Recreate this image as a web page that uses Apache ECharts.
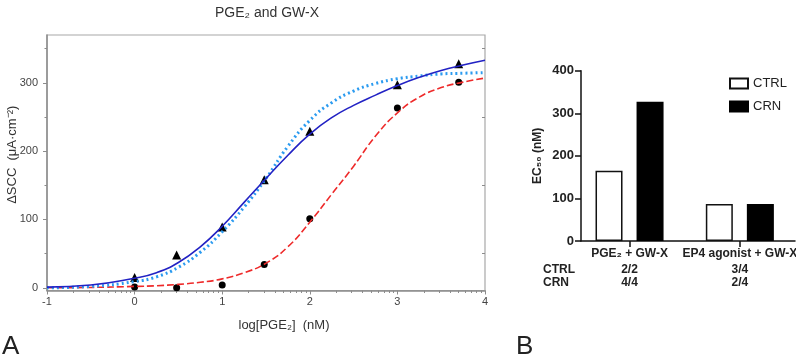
<!DOCTYPE html>
<html>
<head>
<meta charset="utf-8">
<script src="https://cdn.jsdelivr.net/npm/echarts@6/dist/echarts.min.js"></script>
<style>
html,body{margin:0;padding:0;background:#fff;}
#chart{width:796px;height:363px;}
</style>
</head>
<body>
<div id="chart"></div>
<script>
var curveX     = [-1, -0.5, 0, 0.25, 0.5, 0.75, 1, 1.25, 1.5, 1.75, 2, 2.25, 2.5, 2.75, 3, 3.25, 3.5, 3.75, 4];
var curveSolid = [1, 4, 14, 22, 37, 60, 90, 125, 160, 194, 225, 249, 267, 282, 296, 308, 318, 326, 333];
var curveDot   = [0, 2, 9, 16, 30, 52, 82, 118, 160, 207, 245, 271, 288, 299, 306, 310, 313, 314, 315];
var curveDash  = [0, 0.5, 2, 3, 5, 8, 13, 22, 36, 60, 96, 137, 178, 222, 256, 279, 293, 301, 307];
var doseX      = [0, 0.48, 1, 1.48, 2, 3, 3.7];
var triVals    = [15, 48, 89, 158, 229, 297, 328];
var dotVals    = [1, 0, 4, 34, 101, 263, 301];
var yTicksA    = [0, 100, 200, 300];
var yMinorA    = [50, 150, 250, 350];

// panel B - EC50 bars
var groups  = ['PGE₂ + GW-X', 'EP4 agonist + GW-X'];
var ctrlEC  = [165, 87];
var crnEC   = [327, 87];
var ctrlN   = ['2/2', '3/4'];
var crnN    = ['4/4', '2/4'];

var font = 'Liberation Sans, Arial, sans-serif';
var grey = '#8c8c8c';

function pairs(xs, ys){
    var out = [];
    for (var i = 0; i < xs.length; i++) out.push([xs[i], ys[i]]);
    return out;
}
// log-spaced minor ticks between decades
var xMinorA = [];
for (var d = -1; d < 4; d++) {
    for (var k = 2; k <= 9; k++) xMinorA.push(d + Math.log10(k));
}
var half = 0.186; // offset of each bar from its group centre
var ctrlData = [], crnData = [];
for (var i = 0; i < groups.length; i++) {
    ctrlData.push([i + 1 - half, ctrlEC[i]]);
    crnData.push([i + 1 + half, crnEC[i]]);
}

var chart = echarts.init(document.getElementById('chart'));
chart.setOption({
    backgroundColor: '#fff',
    animation: false,
    textStyle: {fontFamily: font},
    title: {
        text: 'PGE₂ and GW-X',
        left: 262, top: 1, textAlign: 'center',
        textStyle: {fontSize: 14, fontWeight: 'normal', color: '#333', fontFamily: font}
    },
    legend: {
        orient: 'vertical',
        left: 724, top: 72,
        itemWidth: 18, itemHeight: 10, itemGap: 10,
        icon: 'rect',
        textStyle: {fontSize: 13, color: '#222', fontFamily: font},
        data: ['CTRL', 'CRN']
    },
    grid: [
        {left: 47, top: 35, width: 438, height: 255.5, show: true, borderColor: '#a8a8a8', borderWidth: 1.2, outerBoundsMode: 'none'},
        {left: 581, top: 70.7, right: 1, height: 170.3, outerBoundsMode: 'none'}
    ],
    xAxis: [
        {
            gridIndex: 0, type: 'value', min: -1, max: 4, interval: 1,
            name: 'log[PGE₂]  (nM)', nameLocation: 'middle', nameGap: 28, nameMoveOverlap: false,
            nameTextStyle: {fontSize: 13, color: '#333', padding: [0, 0, 0, 36]},
            axisLine: {show: true, onZero: false, lineStyle: {color: grey, width: 1.5}},
            axisTick: {show: true, length: 4, lineStyle: {color: grey}},
            axisLabel: {fontSize: 11, color: '#444', margin: 6},
            splitLine: {show: false}
        },
        {
            gridIndex: 0, type: 'value', min: -1, max: 4, position: 'bottom',
            axisLine: {show: false, onZero: false},
            axisTick: {show: true, length: 2.5, customValues: xMinorA, lineStyle: {color: grey}},
            axisLabel: {show: false},
            splitLine: {show: false}
        },
        {
            gridIndex: 1, type: 'value', min: 0.56, max: 2.5,
            axisLine: {show: true, onZero: false, lineStyle: {color: '#111', width: 1.5}},
            axisTick: {show: true, length: 6, customValues: [1, 2], lineStyle: {color: '#111', width: 1.5}},
            axisLabel: {
                customValues: [1, 2], margin: 4, color: '#222',
                formatter: function (v) {
                    var i = Math.round(v) - 1;
                    return '{a|' + groups[i] + '}\n{b|' + ctrlN[i] + '}\n{b|' + crnN[i] + '}';
                },
                rich: {
                    a: {fontSize: 12, fontWeight: 'bold', lineHeight: 18, color: '#222', fontFamily: font},
                    b: {fontSize: 12, fontWeight: 'bold', lineHeight: 13, color: '#222', fontFamily: font}
                }
            },
            splitLine: {show: false}
        }
    ],
    yAxis: [
        {
            gridIndex: 0, type: 'value', min: -4, max: 370,
            name: 'ΔSCC  (μA·cm⁻²)', nameLocation: 'middle', nameGap: 28, nameMoveOverlap: false,
            nameTextStyle: {fontSize: 13, color: '#333', padding: [0, 0, 0, 16]},
            axisLine: {show: true, onZero: false, lineStyle: {color: grey, width: 1.5}},
            axisTick: {show: true, length: 4, customValues: yTicksA, lineStyle: {color: grey}},
            axisLabel: {fontSize: 11, color: '#444', margin: 9, customValues: yTicksA},
            splitLine: {show: false}
        },
        {
            gridIndex: 0, type: 'value', min: -4, max: 370, position: 'left',
            axisLine: {show: false, onZero: false},
            axisTick: {show: true, length: 2.5, customValues: yMinorA, lineStyle: {color: grey}},
            axisLabel: {show: false},
            splitLine: {show: false}
        },
        {
            gridIndex: 0, type: 'value', min: -4, max: 370, position: 'right',
            axisLine: {show: false, onZero: false},
            axisTick: {show: true, inside: true, length: 3, customValues: yMinorA, lineStyle: {color: grey}},
            axisLabel: {show: false},
            splitLine: {show: false}
        },
        {
            gridIndex: 1, type: 'value', min: 0, max: 400, interval: 100,
            name: 'EC₅₀ (nM)', nameLocation: 'middle', nameGap: 37, nameMoveOverlap: false,
            nameTextStyle: {fontSize: 12, fontWeight: 'bold', color: '#222'},
            axisLine: {show: true, onZero: false, lineStyle: {color: '#111', width: 1.5}},
            axisTick: {show: true, length: 6, lineStyle: {color: '#111', width: 1.5}},
            axisLabel: {fontSize: 13, fontWeight: 'bold', color: '#222', margin: 7},
            splitLine: {show: false}
        }
    ],
    series: [
        {
            type: 'line', xAxisIndex: 0, yAxisIndex: 0, smooth: 0.5, showSymbol: false,
            data: pairs(curveX, curveDash),
            lineStyle: {color: '#ee2a2a', width: 1.6, type: [7, 3]}
        },
        {
            type: 'line', xAxisIndex: 0, yAxisIndex: 0, smooth: 0.5, showSymbol: false,
            data: pairs(curveX, curveDot),
            lineStyle: {color: '#2b9bf0', width: 3, type: [2, 3]}
        },
        {
            type: 'line', xAxisIndex: 0, yAxisIndex: 0, smooth: 0.5, showSymbol: false,
            data: pairs(curveX, curveSolid),
            lineStyle: {color: '#2222c4', width: 1.6}
        },
        {
            type: 'scatter', xAxisIndex: 0, yAxisIndex: 0, symbol: 'triangle', symbolSize: 9,
            data: pairs(doseX, triVals), itemStyle: {color: '#000', opacity: 1}
        },
        {
            type: 'scatter', xAxisIndex: 0, yAxisIndex: 0, symbol: 'circle', symbolSize: 7,
            data: pairs(doseX, dotVals), itemStyle: {color: '#000', opacity: 1}
        },
        {
            name: 'CTRL', type: 'bar', xAxisIndex: 2, yAxisIndex: 3, barWidth: 27, barGap: '-100%',
            data: ctrlData,
            itemStyle: {color: '#fff', borderColor: '#111', borderWidth: 1.5}
        },
        {
            name: 'CRN', type: 'bar', xAxisIndex: 2, yAxisIndex: 3, barWidth: 27, barGap: '-100%',
            data: crnData,
            itemStyle: {color: '#000', borderColor: '#000', borderWidth: 1.5}
        }
    ],
    graphic: [
        {type: 'text', left: 2, top: 334, style: {text: 'A', fontSize: 26, fill: '#222', fontFamily: font}},
        {type: 'text', left: 516, top: 334, style: {text: 'B', fontSize: 26, fill: '#222', fontFamily: font}},
        {type: 'text', left: 543, top: 264, style: {text: 'CTRL', fontSize: 12, fontWeight: 'bold', fill: '#222', fontFamily: font}},
        {type: 'text', left: 543, top: 277, style: {text: 'CRN', fontSize: 12, fontWeight: 'bold', fill: '#222', fontFamily: font}}
    ]
});
</script>
</body>
</html>
